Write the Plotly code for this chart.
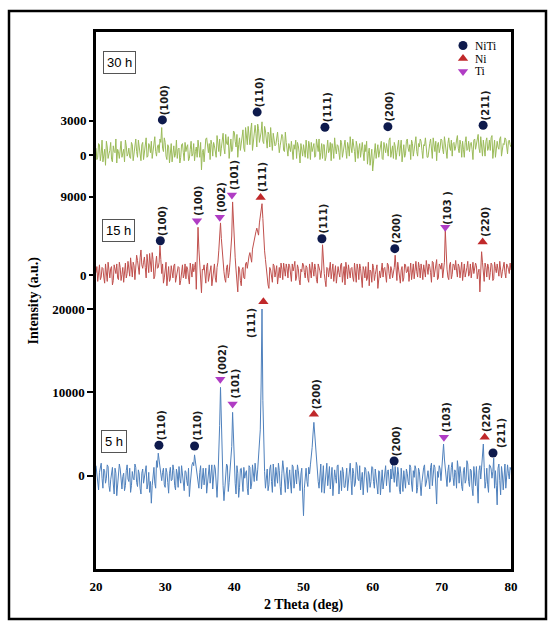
import numpy as np
import plotly.graph_objects as go

# ---------------- data ----------------
# measurement grid: main points every 0.25 deg, intermediate points at +0.125 deg
two_theta_main = np.round(np.arange(20, 80.001, 0.25), 3)
two_theta_mid = np.round(np.arange(20.125, 79.9, 0.25), 3)

intensity_30h = [
    600, -200, 900, 100, -600, 500, 1200, -300, 400, -400, 800, 200,
    -700, 300, 1000, -200, 500, 1300, -100, 600, -300, 900, 200, 1400,
    -200, 700, -500, 1100, 300, 1500, -100, 800, 1200, 200, 1600, -100,
    900, 1400, 2400, 300, 1100, -400, 700, 200, -600, 800, 100, -300,
    600, -200, 1000, -500, 300, 900, -300, 1200, 100, -500, 700, 1300,
    -200, -1300, 500, 800, 1500, 200, -400, 900, 1100, 400, 1700, 300,
    -100, 1300, 600, 1800, 900, -300, 1400, 500, 2000, 700, -200, 1500,
    1000, 2200, 300, 1600, 2500, 900, 2800, 1200, 2600, 700, 2300, 1500,
    2900, 1000, 2100, 600, 1800, 2400, 400, 1500, 900, 2000, 200, 1300,
    1600, 300, 1100, -100, 700, 1200, -400, 500, -300, 800, -700, 400,
    900, -200, 600, 1200, -400, 300, 1000, -100, 700, 1400, 200, -300,
    900, -200, 1300, 400, -500, 600, 1500, 100, 800, -400, 1100, 300,
    1300, -300, 700, 1600, 200, 900, -600, 800, 500, -200, 1100, -500,
    300, -800, 600, -200, -1400, 400, -300, 900, 200, 1200, -400, 700,
    1000, -100, 1500, 300, -300, 800, 200, 1300, 600, -600, 900, 100,
    1400, 300, -400, 1000, 500, 1600, -100, 700, 1200, -300, 800, 200,
    -200, 1000, 400, 1500, 300, -500, 1100, 600, 1300, 100, 900, -300,
    1500, 400, -100, 1100, 700, 1700, 200, 900, 1200, -200, 1600, 500,
    300, 1100, -400, 1400, 900, 1800, 200, 1000, 1300, -100, 1500, 600,
    400, 1700, 800, -200, 1200, 500, 1600, 300, 900, 1400, 100, 1300,
    700]
intensity_30h_mid = [
    -400, 1000, -500, 1300, 200, -900, 700, 100, 1100, -600, 300, 1400,
    500, -300, 1200, 200, -600, 800, 100, -200, 1100, -500, 700, 300,
    1300, 100, 900, -400, 600, -200, 1000, 200, -300, 900, 300, 700,
    200, 1100, 600, 1500, -100, 900, -700, 1000, 300, -200, 1300, 500,
    -700, 900, 200, 1100, 700, -500, 500, -100, 1000, 300, -200, 600,
    1100, 200, -600, 1400, 400, 1000, 1300, -100, 800, -200, 900, 1400,
    600, 1900, 100, 1000, 1600, 700, 300, 2100, 1200, 1800, 900, 400,
    1700, 600, 2400, 900, 1600, 2200, 400, 2100, 1900, 2700, 1100, 2000,
    1200, 2500, 1500, 2000, 700, 1300, 1900, 800, 1700, 1100, 800, 1800,
    400, 2000, 600, 1000, 300, -200, 900, 1300, 1100, 200, 1000, -100,
    200, 1300, -300, 800, 1100, 700, -200, 1400, 300, -400, 1000, 900,
    -500, 600, 200, 1100, 1000, -300, 600, 900, 200, 1300, -200, 800,
    400, 1100, -100, 700, 1400, 300, 1200, -300, 1000, 600, 200, 900,
    1200, 100, -900, 500, -600, 1000, 400, -200, 900, -300, 1100, 200,
    400, 1300, -200, 800, 1100, -400, 900, -100, 1300, 200, -200, 1200,
    600, 900, 1300, -100, 1200, 300, 1000, 1400, 400, 900, 1500, -200,
    800, 1400, -300, 700, 1200, 900, 200, 1400, 500, 1600, 300, 1000,
    700, 1300, 1000, 400, 1300, 600, 1300, -200, 500, 1100, 400, 1200,
    1000, 500, 1300, 500, 1400, 600, 1600, -100, 700, 1200, 400, 1300,
    1500, -300, 1300, 1000, 700, 1400, -100, 1000, 1500, 600, 1200, 900]

intensity_15h = [
    300, -700, 1200, -200, 800, -900, 400, 1500, -300, 1000, -600, 700,
    1300, -500, 900, 100, -800, 1400, 200, 1000, 2000, -200, 1100, 600,
    1700, 100, 2900, 800, 2100, -300, 1500, 2500, 400, 1800, -100, 2200,
    900, 3400, 200, -900, 600, -1200, 1000, -400, 400, 1100, -800, 300,
    900, -600, 1200, 100, -400, 700, -1000, 800, 1300, 900, -1600, 5500,
    1400, -2000, 600, -500, 1000, -700, 300, -1200, 700, -300, 900, 2800,
    6000, 2600, 400, -800, 1200, 300, 2600, 8400, 3200, 600, -1900, 700,
    -1200, 900, -400, 1500, 1900, 2600, 1500, 3600, 4800, 5400, 4600, 6800,
    8200, 4200, 1800, -700, -1500, 600, -800, 1100, 300, -1000, 900, 1400,
    -500, 600, 1300, -300, 1100, -700, 500, 1600, -200, 800, -1100, 400,
    1200, -300, 900, -800, 600, 1500, -100, 700, -900, 1000, -300, 3500,
    200, -1300, 800, 1100, -400, 1300, 300, -900, 1000, -200, 1400, 500,
    -1100, 700, 1200, -300, 900, -700, 400, 1300, -500, 800, -1400, 600,
    1000, -300, -1200, 400, 1300, -600, 700, -1500, 500, 1100, -200, 900,
    -800, 1200, -400, 600, 300, 2300, -600, 800, -900, 1000, -300, 1200,
    400, -700, 1400, 200, -400, 1600, -200, 900, 1300, -500, 700, 1700,
    100, 1000, -800, 1500, 600, 1800, -300, 1100, 1400, 500, 5200, 700,
    -500, 1500, 100, 1200, 1700, -200, 1000, 400, -600, 1300, 700, 1600,
    200, -300, 1500, 800, 1100, 300, -1900, 2700, 600, 1400, -200, 1000,
    300, 1200, -400, 800, 1300, -100, 900, 400, 1500, -300, 1100, 200,
    600]
intensity_15h_mid = [
    1000, 400, -500, 900, -200, 1300, -700, 400, 800, -1100, 1200, 200,
    -300, 1500, -600, 900, 500, -300, 1600, -100, 900, 1500, -500, 2300,
    600, 2000, 1200, 1500, 900, 2400, 300, 1000, 2600, -400, 1300, 800,
    1500, 1800, 1300, -300, 1500, 200, -700, 1100, -300, 1300, -200, 1000,
    -1100, 600, -300, 1300, 1000, -300, 1400, -200, 400, 1500, 2000, 3000,
    -600, 700, 1200, -900, 1400, -200, 1100, -500, 1300, -800, 1500, 4500,
    4200, 1200, -400, 900, -300, 1500, 4500, 6000, 2000, -500, 1000, -600,
    700, -300, 1300, 800, 2200, 1800, 3000, 4200, 5000, 4700, 6000, 7500,
    6500, 2800, 600, -1100, 900, -600, 1300, -200, 1100, 500, -300, 700,
    1400, -100, 800, 1300, -400, 1300, 1000, -600, 1200, -500, 700, 1400,
    300, 1100, -400, 1300, -300, 800, 1300, -500, 1300, 500, 600, 1200,
    -600, 900, -200, 1500, 700, -700, 1100, 600, 300, 1200, -800, 1000,
    1500, -400, 600, 800, -200, 1400, -800, 700, 1300, -200, 1000, -300,
    -600, 1500, 600, -800, 900, 100, 1200, -200, -300, 1400, 800, -600,
    1400, 200, 1000, -300, 900, 600, 1500, -400, 600, -700, 1300, 300,
    1000, 300, -500, 1300, 700, 400, 1500, -300, 600, 1200, -200, 1000,
    1300, 300, 1600, -200, 1200, -500, 1300, 700, -300, 1500, 1800, -200,
    1200, -400, 1300, 600, 600, 1300, -300, 1500, 1000, -200, 900, -100,
    1300, 900, 200, 1400, -400, 700, 300, 1500, -700, 900, 1300, -500,
    1400, -600, 1500, 300, 700, 1600, -300, 1200, 300, 1300, 700, 1400]

intensity_5h = [
    1200, -800, 400, 1500, -1500, 600, -300, 1100, -1900, 200, -1000, 900,
    -2400, -400, 800, -1600, 300, -1200, 1300, -700, -2000, 500, -500, 1000,
    -1300, 200, -2200, 800, -300, 1200, -1000, -2000, -3300, 400, -900, 1800,
    2700, 1400, -600, 900, -1400, 400, -2100, 1000, -500, 600, -1700, 200,
    1100, -900, 300, -1800, 500, -1200, -2500, 700, 1600, 2500, 1200, -800,
    400, -1600, 900, -400, -2100, 600, -900, 1300, -300, 800, -2600, 2200,
    10600, 2800, -3000, 500, 1200, -800, 2000, 7600, 1800, -2200, 300, -1400,
    900, -1900, -300, 600, -2300, 1000, -1000, 200, 1500, -600, 2800, 5500,
    20000, 3000, -1500, 800, -1100, 1300, -2000, 400, 1000, -900, 600, -2300,
    1800, -500, 200, -1600, 700, -2100, 1100, -300, -1000, 600, -1800, 900,
    -4800, 200, -700, 1000, 1300, 3400, 6400, 3200, 600, -1500, 1400, 300,
    -2100, 800, -1200, 1100, -400, -2400, 700, -900, 1300, -800, -1800, 500,
    -1400, 900, -500, 1500, -2300, 300, -900, 1200, -600, -1700, 400, -1100,
    800, -2000, 100, -700, 1000, -1500, -300, -2200, 500, -900, -1600, 300,
    -1200, 700, -2000, -400, 400, 1100, -1300, 200, -2200, -500, 600, -1500,
    300, -1100, 1000, -1900, -200, 800, -1400, 500, -2400, 200, 1300, -900,
    600, -1600, 1500, -300, 1000, -3400, -200, 800, 1200, 3800, 1000, -1300,
    1300, -600, 1600, -1200, 400, 1800, -900, 300, -1800, 1000, -500, 1400,
    -1300, 600, -2400, 200, 1100, -3300, 1200, 1500, 3800, -1500, 900, -2000,
    1200, -300, 2100, 600, -3500, 1400, -2300, 200, 900, -1500, 1300, -400,
    700]
intensity_5h_mid = [
    200, -1700, 900, -300, 800, -900, 1300, -1200, -500, 1000, -2200, 300,
    -1000, 1400, -800, -100, -1800, 600, -400, 900, -1200, -300, 1400, -800,
    700, -1500, 300, -900, 600, -1600, 400, -700, -1200, 1000, -1500, 1000,
    2000, 600, 400, -1100, 900, -800, 300, -600, 1300, -1200, 800, -1400,
    -300, 1200, -1300, 600, -600, 900, -1000, 1300, 1200, 1800, 100, -1500,
    1200, -700, -1100, 900, -1000, 1300, 200, -1600, 1300, -1700, -400, 6000,
    5500, -1200, -1600, 1400, -1900, 1100, 3500, 4000, -900, 1200, -2600, 800,
    -1300, 1000, 300, -1500, 1200, -1600, 1300, -700, 500, 700, 4000, 11000,
    9000, 500, 400, -1800, 800, -700, 1400, -1300, -200, 1500, -1300, 300,
    800, -2000, 1000, -300, -1000, 1300, -1500, 700, 1300, -500, 200, -2200,
    -1500, 900, -1300, 200, 2200, 5000, 5000, 1500, -700, 400, -2000, 1200,
    -500, 1500, -300, -1600, 1000, -1300, -200, 1200, -2200, 600, 1000, -1400,
    300, -1800, 1100, -600, 900, -1300, 1600, -400, 1200, -500, -2300, 1000,
    -1200, 500, -1400, 1100, -700, 800, -1700, 600, -2300, 700, -400, 1200,
    500, -1500, 800, 1300, -800, -300, 1000, -1700, 900, -1900, -400, 800,
    -700, 1300, -1000, 600, 1200, -2100, 900, -1000, -800, 1000, -1300, 400,
    -500, 1000, -1200, 1300, -1800, 500, 1200, -600, 1800, 2000, -500, 600,
    -800, 1000, -200, 700, -1500, 800, 1100, -1300, 600, -900, 1800, -700,
    800, -1500, 1100, -1200, -1500, 600, -400, 2500, 1000, -700, -1100, 1300,
    800, 500, -1500, -1200, 900, -600, 1100, -1700, 1400, -500, 300, 1000]

# reflection markers (2theta, marker height, phase, Miller index)
peaks_30h_pos = [29.6, 43.3, 53.1, 62.2, 75.97]
peaks_30h_height = [3070, 3750, 2430, 2480, 2600]
peaks_30h_phase = ["NiTi", "NiTi", "NiTi", "NiTi", "NiTi"]
peaks_30h_hkl = ["(100)", "(110)", "(111)", "(200)", "(211)"]

peaks_15h_pos = [29.3, 34.6, 37.9, 39.65, 43.8, 52.66, 63.2, 70.5, 75.9]
peaks_15h_height = [3960, 6250, 6640, 9190, 8920, 4190, 3050, 5490, 3810]
peaks_15h_phase = ["NiTi", "Ti", "Ti", "Ti", "Ni", "NiTi", "NiTi", "Ti", "Ni"]
peaks_15h_hkl = ["(100)", "(100)", "(002)", "(101)", "(111)", "(111)", "(200)", "(103 )", "(220)"]

peaks_5h_pos = [29.1, 34.25, 37.97, 39.75, 44.2, 51.5, 63.1, 70.3, 76.2, 77.4]
peaks_5h_height = [3650, 3560, 11570, 8600, 20880, 7360, 1760, 4600, 4600, 2720]
peaks_5h_phase = ["NiTi", "NiTi", "Ti", "Ti", "Ni", "Ni", "NiTi", "Ti", "Ni", "NiTi"]
peaks_5h_hkl = ["(110)", "(110)", "(002)", "(101)", "(111)", "(200)", "(200)", "(103)", "(220)", "(211)"]

sample_names = ["5 h", "15 h", "30 h"]
phases = ["NiTi", "Ni", "Ti"]
x_ticks = [20, 30, 40, 50, 60, 70, 80]

def merge(main, mid):
    """interleave main-grid and intermediate-grid readings into one pattern"""
    x = np.empty(len(main) + len(mid))
    y = np.empty(len(main) + len(mid))
    x[0::2], x[1::2] = two_theta_main, two_theta_mid
    y[0::2], y[1::2] = main, mid
    return x, y

# ---------------- styles ----------------
line_colors = {"30 h": "#9BBB59", "15 h": "#C0504D", "5 h": "#4F81BD"}
phase_symbol = {"NiTi": "circle", "Ni": "triangle-up", "Ti": "triangle-down"}
phase_color = {"NiTi": "#0E1A4C", "Ni": "#C0282A", "Ti": "#B03CC4"}

W, H = 553, 626
L, R, T, B = 96, 42, 32, 57
PW, PH = W - L - R, H - T - B
def px_x(px):
    return (px - L) / PW
def px_y(py):
    return (H - B - py) / PH

series = {
    "5 h": dict(main=intensity_5h, mid=intensity_5h_mid, axis="y", pos=peaks_5h_pos,
                h=peaks_5h_height, ph=peaks_5h_phase, hkl=peaks_5h_hkl,
                rng=[-11194, 53233], ticks=[0, 10000, 20000], box=(113.7, 441.3)),
    "15 h": dict(main=intensity_15h, mid=intensity_15h_mid, axis="y2", pos=peaks_15h_pos,
                 h=peaks_15h_height, ph=peaks_15h_phase, hkl=peaks_15h_hkl,
                 rng=[-33630, 27860], ticks=[0, 9000], box=(118.3, 230)),
    "30 h": dict(main=intensity_30h, mid=intensity_30h_mid, axis="y3", pos=peaks_30h_pos,
                 h=peaks_30h_height, ph=peaks_30h_phase, hkl=peaks_30h_hkl,
                 rng=[-36210, 10758], ticks=[0, 3000], box=(119.5, 62.5)),
}

label_shift = {("5 h", 4): (-12, -21), ("5 h", 9): (8, 20)}

fig = go.Figure()
annotations = []
serif_bold = dict(family="Liberation Serif", size=13, color="black", weight="bold")

for name in sample_names:
    s = series[name]
    xs_, ys_ = merge(s["main"], s["mid"])
    fig.add_trace(go.Scatter(x=xs_, y=ys_, yaxis=s["axis"], mode="lines",
                             line=dict(color=line_colors[name], width=1.0),
                             hoverinfo="skip"))
    fig.add_trace(go.Scatter(x=s["pos"], y=s["h"], yaxis=s["axis"], mode="markers",
                             marker=dict(symbol=[phase_symbol[p] for p in s["ph"]],
                                         color=[phase_color[p] for p in s["ph"]],
                                         size=9, line=dict(width=0)),
                             cliponaxis=False, hoverinfo="skip"))
    for i, (xp, yp, lab) in enumerate(zip(s["pos"], s["h"], s["hkl"])):
        dx, dy = label_shift.get((name, i), (2, 20))
        annotations.append(dict(x=xp, y=yp, xref="x", yref=s["axis"], text=lab,
                                textangle=-90, showarrow=False, xanchor="center",
                                yanchor="middle", xshift=dx, yshift=dy,
                                font=dict(family="DejaVu Sans", size=10,
                                          color="#1a1a1a", weight="bold")))
    bx, by = s["box"]
    annotations.append(dict(x=px_x(bx), y=px_y(by), xref="paper", yref="paper",
                            text=name, showarrow=False, xanchor="center", yanchor="middle",
                            font=dict(family="Liberation Sans", size=13, color="black"),
                            bordercolor="#555555", borderwidth=1, borderpad=3,
                            bgcolor="white"))

# phase key on an auxiliary unit axis
leg_y = [px_y(45.5), px_y(58.5), px_y(71.5)]
fig.add_trace(go.Scatter(x=[px_x(463)] * 3, y=leg_y, xaxis="x2", yaxis="y4",
                         mode="markers",
                         marker=dict(symbol=[phase_symbol[p] for p in phases],
                                     color=[phase_color[p] for p in phases],
                                     size=9), cliponaxis=False, hoverinfo="skip"))
for p, yy in zip(phases, leg_y):
    annotations.append(dict(x=px_x(474), y=yy, xref="paper", yref="paper", text=p,
                            showarrow=False, xanchor="left", yanchor="middle",
                            borderpad=0,
                            font=dict(family="Liberation Serif", size=11.5, color="black")))

annotations.append(dict(x=0.5, y=px_y(605), xref="paper", yref="paper",
                        text="2 Theta (deg)", showarrow=False, xanchor="center",
                        yanchor="middle", font=dict(family="Liberation Serif", size=14,
                                                     color="black", weight="bold")))
annotations.append(dict(x=px_x(33), y=0.5, xref="paper", yref="paper",
                        text="Intensity (a.u.)", textangle=-90, showarrow=False,
                        xanchor="center", yanchor="middle",
                        font=dict(family="Liberation Serif", size=14, color="black",
                                  weight="bold")))

def yax(name, primary=False):
    s = series[name]
    d = dict(range=s["rng"], domain=[0, 1], tickvals=s["ticks"],
             ticktext=[str(v) for v in s["ticks"]], ticks="outside", ticklen=6,
             tickwidth=1.5, tickcolor="black", showgrid=False, zeroline=False,
             tickfont=serif_bold, fixedrange=True)
    if primary:
        d.update(showline=True, mirror=True, linecolor="black", linewidth=2.5)
    else:
        d.update(overlaying="y", showline=False, anchor="x")
    return d

fig.update_layout(
    width=W, height=H, margin=dict(l=L, r=R, t=T, b=B),
    paper_bgcolor="white", plot_bgcolor="white", showlegend=False,
    xaxis=dict(range=[20, 80], tickvals=x_ticks, ticks="", showgrid=False,
               zeroline=False, showline=True, mirror=True, linecolor="black",
               linewidth=2.5, tickfont=serif_bold, ticklabelstandoff=4),
    xaxis2=dict(range=[0, 1], overlaying="x", visible=False),
    yaxis=yax("5 h", primary=True),
    yaxis2=yax("15 h"),
    yaxis3=yax("30 h"),
    yaxis4=dict(range=[0, 1], overlaying="y", visible=False, domain=[0, 1]),
    annotations=annotations,
    shapes=[dict(type="rect", xref="paper", yref="paper",
                 x0=px_x(9), x1=px_x(546), y0=px_y(619), y1=px_y(11),
                 line=dict(color="black", width=2.5), layer="above")],
)

fig.write_html("out.html")
